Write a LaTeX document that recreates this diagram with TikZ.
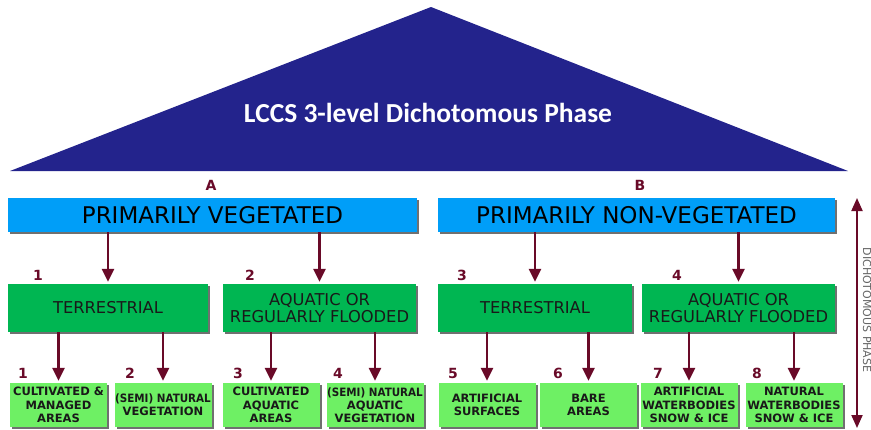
\documentclass[tikz,border=0pt]{standalone}
\usepackage{fontspec}
\setmainfont{DejaVu Sans}
\newfontfamily\titlefont{Carlito}
\newfontfamily\slimfont[FakeStretch=0.9]{DejaVu Sans}
\usetikzlibrary{arrows.meta}
\usetikzlibrary{shadows}
\definecolor{navyband}{RGB}{35,35,140}
\definecolor{skybar}{RGB}{0,158,248}
\definecolor{midgreen}{RGB}{0,182,82}
\definecolor{leafgreen}{RGB}{110,240,100}
\definecolor{arrowred}{RGB}{105,10,40}
\definecolor{boxtext}{RGB}{25,25,25}

\begin{document}
\begin{tikzpicture}[x=1pt, y=-1pt,
		boxshadow/.style={drop shadow={shadow xshift=2pt, shadow yshift=-2pt, opacity=0.75, fill=black!75}},
		classbar/.style={boxshadow, fill=skybar, minimum height=34pt, text=black, font=\fontsize{23}{25}\selectfont, inner sep=0pt},
		splitbox/.style={boxshadow, fill=midgreen, minimum height=48pt, minimum width=194pt, text=boxtext, align=center, font=\fontsize{16.3}{16.5}\selectfont, inner sep=0pt},
		leafbox/.style={boxshadow, fill=leafgreen, minimum height=44pt, minimum width=97pt, text=boxtext, align=center, font=\bfseries\fontsize{11.5}{13.2}\selectfont, inner sep=0pt},
		num/.style={text=arrowred, font=\bfseries\fontsize{14}{14}\selectfont, inner sep=0pt},
		flow/.style={draw=arrowred, line width=2.8pt, -{Triangle[width=12pt,length=13pt]}, shorten >=2pt}]
	\useasboundingbox (0,0) rectangle (871,429);

	% title triangle
	\fill[navyband] (10,171) -- (431,7) -- (848,171) -- cycle;
	\node[text=white, font=\titlefont\bfseries\fontsize{27.5}{29}\selectfont] (title) at (428,113) {LCCS 3-level Dichotomous Phase};

	% first level
	\node[num] (labA) at (211,185) {A};
	\node[num] (labB) at (640,185) {B};
	\node[classbar, minimum width=409pt] (veg) at (212.5,215) {PRIMARILY VEGETATED};
	\node[classbar, minimum width=397pt] (nonveg) at (636.5,215) {PRIMARILY NON-VEGETATED};

	% second level
	\node[splitbox, minimum width=200pt] (terrA) at (108,308) {TERRESTRIAL};
	\node[splitbox, minimum width=193pt] (aquaA) at (319.5,308) {AQUATIC OR\\REGULARLY FLOODED};
	\node[splitbox] (terrB) at (535,308) {TERRESTRIAL};
	\node[splitbox, minimum width=193pt] (aquaB) at (738.5,308) {AQUATIC OR\\REGULARLY FLOODED};
	\node[num] (n1) at (38,275) {1};
	\node[num] (n2) at (250,275) {2};
	\node[num] (n3) at (462,275) {3};
	\node[num] (n4) at (677,275) {4};

	% third level
	\node[leafbox] (cultA) at (58.5,405) {CULTIVATED \&\\MANAGED\\AREAS};
	\node[leafbox] (natA) at (163,405) {{\slimfont (SEMI) NATURAL}\\VEGETATION};
	\node[leafbox] (cultW) at (271,405) {CULTIVATED\\AQUATIC\\AREAS};
	\node[leafbox] (natW) at (375,405) {{\slimfont (SEMI) NATURAL}\\AQUATIC\\VEGETATION};
	\node[leafbox] (artS) at (487,405) {ARTIFICIAL\\SURFACES};
	\node[leafbox] (bare) at (588.5,405) {BARE\\AREAS};
	\node[leafbox] (artW) at (689,405) {ARTIFICIAL\\WATERBODIES\\SNOW \& ICE};
	\node[leafbox] (natWB) at (794,405) {NATURAL\\WATERBODIES\\SNOW \& ICE};
	\node[num] (m1) at (23,373) {1};
	\node[num] (m2) at (130,373) {2};
	\node[num] (m3) at (238,373) {3};
	\node[num] (m4) at (338,373) {4};
	\node[num] (m5) at (453,373) {5};
	\node[num] (m6) at (558,373) {6};
	\node[num] (m7) at (658,373) {7};
	\node[num] (m8) at (757,373) {8};

	% arrows
	\draw[flow] (veg.south -| terrA.north) -- (terrA.north);
	\draw[flow] (veg.south -| aquaA.north) -- (aquaA.north);
	\draw[flow] (nonveg.south -| terrB.north) -- (terrB.north);
	\draw[flow] (nonveg.south -| aquaB.north) -- (aquaB.north);
	\draw[flow] (terrA.south -| cultA.north) -- (cultA.north);
	\draw[flow] (terrA.south -| natA.north) -- (natA.north);
	\draw[flow] (aquaA.south -| cultW.north) -- (cultW.north);
	\draw[flow] (aquaA.south -| natW.north) -- (natW.north);
	\draw[flow] (terrB.south -| artS.north) -- (artS.north);
	\draw[flow] (terrB.south -| bare.north) -- (bare.north);
	\draw[flow] (aquaB.south -| artW.north) -- (artW.north);
	\draw[flow] (aquaB.south -| natWB.north) -- (natWB.north);

	% dichotomous phase span
	\coordinate (phaseTop) at (857,198);
	\coordinate (phaseBot) at (857,428);
	\draw[draw=arrowred, line width=2pt, {Triangle[width=11pt,length=13pt]}-{Triangle[width=11pt,length=13pt]}] (phaseTop) -- (phaseBot);
	\node[rotate=-90, text=black!60, font=\fontsize{11}{11}\selectfont, inner sep=0pt] (phase) at (867,310) {DICHOTOMOUS PHASE};
\end{tikzpicture}
\end{document}
